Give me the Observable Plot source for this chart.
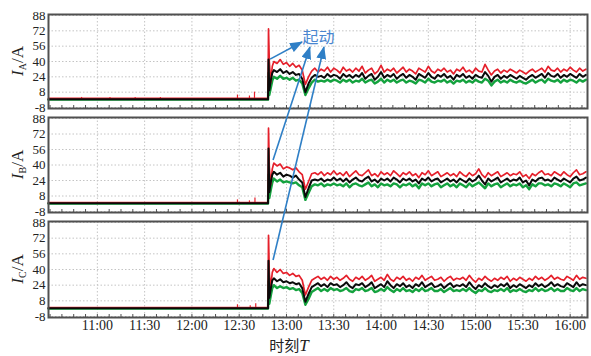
<!DOCTYPE html>
<html><head><meta charset="utf-8">
<script src="https://cdn.jsdelivr.net/npm/d3@7"></script>
<script src="https://cdn.jsdelivr.net/npm/@observablehq/plot@0.6"></script>
<style>
body{margin:0;background:#fff;}
#wrap{position:relative;width:591px;height:356px;overflow:hidden;}
#wrap svg{position:absolute;left:0;}
</style></head><body><div id="wrap"></div>
<script>
// ---- tick labels ----
const xTickLabels = ["11:00","11:30","12:00","12:30","13:00","13:30","14:00","14:30","15:00","15:30","16:00"];
const yTicks = [88, 72, 56, 40, 24, 8, -8];
const xDomainLabels = ["10:29", "16:11"];

// ---- sample times (minutes since midnight) ----
const timesStart = [629, 700, 768.3, 768.6, 769.1, 770, 771];
const timesGrid = d3.range(772, 971, 2); // 12:52 .. 16:10, every 2 min

// ---- phase A ----
const redA = [1.5,1.5,1.5,74,40,18,35,
 40,38,42,37,39,35,38,34,36,31,
 16,24,30,33,29,32,30,34,29,33,
 31,28,34,30,32,29,33,30,35,28,
 31,33,27,30,36,29,32,30,33,28,
 31,34,29,32,30,27,33,31,29,35,
 30,28,32,30,33,29,31,27,32,30,
 34,29,31,28,33,30,29,37,31,26,
 30,32,28,31,29,32,30,28,31,29,
 27,30,32,29,31,33,29,35,31,30,
 33,29,32,30,34,31,29,33,30,32];
const blackA = [0.5,0.5,0.5,42,10,20,28,
 31,29,32,28,30,27,29,26,27,22,
 8,17,23,26,24,25,23,27,24,26,
 25,22,27,24,26,23,26,24,28,22,
 25,27,21,24,29,23,26,24,27,22,
 25,27,23,26,24,21,27,25,23,28,
 24,22,26,24,27,23,25,21,26,24,
 27,23,25,22,26,24,23,29,25,19,
 24,26,22,25,23,26,24,22,25,23,
 21,24,26,23,25,27,23,28,25,24,
 27,23,26,24,27,25,23,27,24,26];
const greenA = [0.2,0.2,0.2,28,5,12,20,
 24,22,25,22,23,21,23,20,21,17,
 5,12,18,21,19,20,19,21,19,21,
 20,18,21,19,21,18,20,19,22,18,
 20,21,17,19,22,18,21,19,21,18,
 20,21,18,20,19,17,21,20,18,22,
 19,18,20,19,21,18,20,17,20,19,
 21,18,20,18,21,19,18,22,20,15,
 19,21,18,20,18,21,19,18,20,18,
 17,19,21,18,20,21,18,22,20,19,
 21,18,21,19,21,20,18,21,19,21];
const spikeTimesA = [650, 668, 684, 700, 748.9, 756.5, 759.7];
const spikeValsA = [2.5, 2.5, 2.5, 2.5, 5, 4, 8];

// ---- phase B ----
const redB = [1.2,1.2,1.2,78,38,20,36,
 42,39,41,36,38,37,35,37,33,30,
 15,23,31,32,30,33,29,32,30,34,
 30,32,29,33,28,31,34,30,29,32,
 35,29,31,28,33,30,32,29,34,31,
 28,32,30,33,29,31,27,32,30,34,
 29,31,33,28,30,32,29,31,28,33,
 30,28,32,29,31,36,30,27,32,29,
 31,33,28,30,32,29,31,30,33,28,
 30,26,31,29,32,34,30,31,29,33,
 31,29,33,30,28,32,35,30,31,33];
const blackB = [0.5,0.5,0.5,57,12,22,30,
 33,30,32,28,30,29,27,29,25,22,
 7,16,24,25,24,26,23,25,24,27,
 24,26,23,26,22,25,27,24,23,26,
 28,23,25,22,26,24,26,23,27,25,
 22,26,24,26,23,25,21,26,24,27,
 23,25,26,22,24,26,23,25,22,26,
 24,22,26,23,25,29,24,20,26,23,
 25,27,22,24,26,23,25,24,27,22,
 24,19,25,23,26,27,24,25,23,27,
 25,23,26,24,22,26,28,24,25,27];
const greenB = [0.2,0.2,0.2,30,6,14,22,
 26,23,25,22,23,22,21,22,19,17,
 4,11,18,20,19,21,18,20,19,21,
 19,20,18,21,17,20,21,19,18,20,
 22,18,20,17,21,19,20,18,21,20,
 17,20,19,21,18,20,16,21,19,21,
 18,20,21,17,19,21,18,20,17,21,
 19,17,21,18,20,22,19,16,21,18,
 20,21,17,19,21,18,20,19,21,17,
 19,15,20,18,21,21,19,20,18,21,
 20,18,21,19,17,21,22,19,20,21];
const spikeTimesB = [748.9, 756.5, 760];
const spikeValsB = [4, 3, 6];

// ---- phase C ----
const redC = [1.2,1.2,1.2,75,36,22,37,
 41,37,40,36,37,34,36,33,34,29,
 14,22,29,31,33,30,32,29,33,30,
 32,29,31,34,30,28,32,30,33,29,
 31,34,28,30,32,29,35,30,28,32,
 30,33,29,31,28,32,30,34,29,31,
 33,29,30,32,28,31,33,29,31,30,
 32,29,34,30,27,31,29,33,30,28,
 31,29,32,30,33,28,31,29,32,30,
 28,31,29,33,30,32,29,31,34,30,
 32,30,29,33,31,29,34,30,32,31];
const blackC = [0.5,0.5,0.5,49,11,20,29,
 31,28,30,27,28,26,27,25,26,21,
 7,15,22,24,26,23,25,22,26,24,
 25,22,24,27,23,21,25,24,26,22,
 24,27,21,23,25,22,28,24,21,25,
 23,26,22,24,21,25,23,27,22,24,
 26,22,23,25,21,24,26,22,24,23,
 25,22,27,23,20,24,22,26,23,21,
 24,22,25,23,26,21,24,22,25,23,
 21,24,22,26,23,25,22,24,27,23,
 25,23,22,26,24,22,27,23,25,24];
const greenC = [0.2,0.2,0.2,28,5,13,21,
 24,21,23,21,22,20,21,19,20,16,
 4,10,17,19,21,18,20,18,21,19,
 20,18,19,21,18,17,20,19,21,18,
 19,21,17,18,20,18,22,19,17,20,
 18,21,18,19,17,20,18,21,18,19,
 21,18,18,20,17,19,21,18,19,18,
 20,18,21,18,16,19,18,21,18,17,
 19,18,20,18,21,17,19,18,20,18,
 17,19,18,21,18,20,18,19,21,18,
 20,18,18,21,19,18,21,18,20,19];
const spikeTimesC = [748.9, 757, 760.5];
const spikeValsC = [4, 3, 5];

// ---- annotation (起动) ----
const annotText = "起动";
const annotTime = 800.3, annotVal = 65;
const arrowFromPanel = [0, 1, 2];
const arrowFromTime = [769.9, 771.8, 771.8];
const arrowFromVal = [42, 44.7, 49.2];
const arrowToTime = [790.2, 795.2, 804.1];
const arrowToVal = [59.8, 54.6, 54.6];

// ---- build ----
const toMin = s => { const [h, m] = s.split(":").map(Number); return h * 60 + m; };
const fmt = m => `${Math.floor(m / 60)}:${String(m % 60).padStart(2, "0")}`;
const majorTicks = xTickLabels.map(toMin);
const minorTicks = d3.range(toMin("10:30"), toMin(xDomainLabels[1]) + 0.1, 7.5);
const xDomain = xDomainLabels.map(toMin);
const times = timesStart.concat(timesGrid);

const RED = "#e5202b", BLACK = "#0a0a0a", GREEN = "#14a23e", FRAME = "#505050", GRID = "#c4c4c4", BLUE = "#2f7fc6";
const wrap = document.getElementById("wrap");

const panels = [
  {R: redA, K: blackA, G: greenA, spT: spikeTimesA, spV: spikeValsA, sub: "A", top: 0, height: 112, mt: 14, mb: 4},
  {R: redB, K: blackB, G: greenB, spT: spikeTimesB, spV: spikeValsB, sub: "B", top: 112, height: 104, mt: 5, mb: 4},
  {R: redC, K: blackC, G: greenC, spT: spikeTimesC, spV: spikeValsC, sub: "C", top: 216, height: 120, mt: 5, mb: 19}
];

const plots = panels.map((P, idx) => {
  const data = times.map((t, i) => ({t, r: P.R[i], k: P.K[i], g: P.G[i]}));
  const spikes = P.spT.map((t, i) => ({t, v: P.spV[i]}));
  const marks = [
    Plot.gridX(majorTicks, {stroke: GRID, strokeOpacity: 1, strokeDasharray: "1.5,2"}),
    Plot.gridY(yTicks, {stroke: GRID, strokeOpacity: 1, strokeDasharray: "1.5,2"}),
    Plot.ruleX(spikes, {x: "t", y1: 0.5, y2: "v", stroke: RED, strokeWidth: 1.2}),
    Plot.line(data, {x: "t", y: "g", stroke: GREEN, strokeWidth: 2.4}),
    Plot.line(data, {x: "t", y: "r", stroke: RED, strokeWidth: 1.7}),
    Plot.line(data, {x: "t", y: "k", stroke: BLACK, strokeWidth: 2}),
    Plot.axisY(yTicks, {tickSize: 0, tickPadding: 3, tickFormat: d => String(d), fontSize: 13, label: null, fill: "#222"}),
    Plot.axisX(minorTicks, {anchor: "bottom", tickSize: -3, tickFormat: () => "", stroke: FRAME, label: null}),
    Plot.frame({stroke: FRAME, strokeWidth: 2})
  ];
  if (idx === 0) {
    marks.push(Plot.text([{t: annotTime, v: annotVal, s: annotText}], {x: "t", y: "v", text: "s", fill: "#4a86d0", fontSize: 16, fontFamily: "Noto Sans CJK SC"}));
  }
  if (idx === 2) {
    marks.push(Plot.axisX(majorTicks, {anchor: "bottom", tickSize: 0, tickPadding: 3, tickFormat: fmt, fontSize: 14, label: null, fill: "#222"}));
  }
  const p = Plot.plot({
    width: 591, height: P.height,
    marginLeft: 48, marginRight: 4, marginTop: P.mt, marginBottom: P.mb,
    style: {fontFamily: "'Liberation Serif', serif", fontSize: "14px", color: "#222", background: "transparent", overflow: "visible"},
    x: {domain: xDomain, label: null},
    y: {domain: [-8, 88], insetTop: 1, insetBottom: 1, label: null},
    marks
  });
  p.style.top = P.top + "px";
  // rotated y label I_X/A
  const cy = (P.mt + P.height - P.mb) / 2;
  const txt = d3.select(p).append("text")
    .attr("transform", `translate(23,${cy}) rotate(-90)`)
    .attr("text-anchor", "middle")
    .attr("font-family", "'Liberation Serif', serif")
    .attr("font-size", 17).attr("fill", "#222");
  txt.append("tspan").attr("font-style", "italic").text("I");
  txt.append("tspan").attr("font-size", 10).attr("dy", 3).text(P.sub);
  txt.append("tspan").attr("dy", -3).text("/A");
  wrap.appendChild(p);
  return p;
});

// overlay: arrows + x label
const ov = d3.select(wrap).append("svg").attr("width", 591).attr("height", 356)
  .style("top", "0px").style("pointer-events", "none");
ov.append("defs").append("marker").attr("id", "ah")
  .attr("markerUnits", "userSpaceOnUse").attr("markerWidth", 13).attr("markerHeight", 10)
  .attr("refX", 12).attr("refY", 5).attr("orient", "auto")
  .append("path").attr("d", "M0,0L13,5L0,10Z").attr("fill", BLUE);
arrowFromPanel.forEach((pi, i) => {
  const ps = plots[pi], pt = plots[0];
  const x1 = ps.scale("x").apply(arrowFromTime[i]);
  const y1 = ps.scale("y").apply(arrowFromVal[i]) + panels[pi].top;
  const x2 = pt.scale("x").apply(arrowToTime[i]);
  const y2 = pt.scale("y").apply(arrowToVal[i]) + panels[0].top;
  ov.append("line").attr("x1", x1).attr("y1", y1).attr("x2", x2).attr("y2", y2)
    .attr("stroke", BLUE).attr("stroke-width", 1.6).attr("marker-end", "url(#ah)");
});
const xl = ov.append("text").attr("x", 289).attr("y", 351).attr("text-anchor", "middle")
  .attr("font-size", 15).attr("fill", "#222");
xl.append("tspan").attr("font-family", "'Noto Sans CJK SC', sans-serif").text("时刻");
xl.append("tspan").attr("font-family", "'Liberation Serif', serif").attr("font-style", "italic").attr("font-size", 17).text("T");
</script>
</body></html>
